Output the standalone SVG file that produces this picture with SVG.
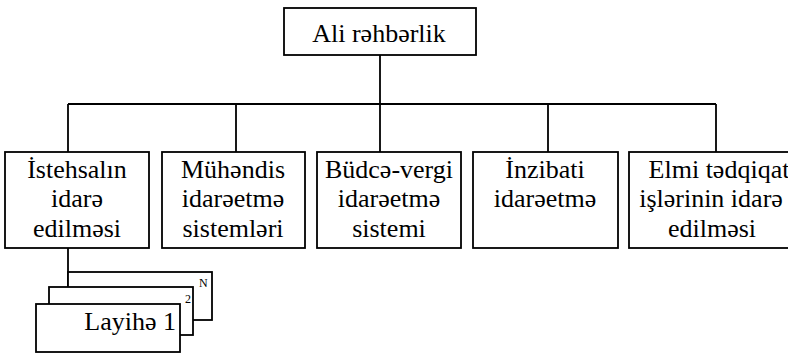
<svg xmlns="http://www.w3.org/2000/svg" width="788" height="353" viewBox="0 0 788 353">
  <style>
    .box { fill: #fff; stroke: #000; stroke-width: 1.8; }
    .line { fill: none; stroke: #000; stroke-width: 1.8; }
    .lbl { font-size: 26px; text-anchor: middle; }
    .idx { font-size: 12px; }
  </style>

  <g font-family="'Liberation Serif', 'Times New Roman', serif" fill="#000">
  <!-- connectors: trunk, bus and drops, plus the link to the project stack -->
  <g id="connectors">
    <path class="line" d="M380 55 V104 M68 104 H716 M68 104 V152 M236 104 V152 M380 104 V152 M548 104 V152 M716 104 V152"/>
    <path class="line" d="M68 248 V287"/>
  </g>

  <g id="top">
    <rect class="box" x="284" y="8" width="192" height="47"/>
    <text class="lbl" x="379" y="42">Ali rəhbərlik</text>
  </g>

  <g id="production">
    <rect class="box" x="5" y="152" width="144" height="96"/>
    <text class="lbl" x="77" y="178">İstehsalın</text>
    <text class="lbl" x="77" y="207">idarə</text>
    <text class="lbl" x="77" y="237">edilməsi</text>
  </g>

  <g id="engineering">
    <rect class="box" x="162" y="152" width="143" height="96"/>
    <text class="lbl" x="233" y="178">Mühəndis</text>
    <text class="lbl" x="233" y="207">idarəetmə</text>
    <text class="lbl" x="233" y="237">sistemləri</text>
  </g>

  <g id="budget">
    <rect class="box" x="317" y="152" width="144" height="96"/>
    <text class="lbl" x="389" y="178">Büdcə-vergi</text>
    <text class="lbl" x="389" y="207">idarəetmə</text>
    <text class="lbl" x="389" y="237">sistemi</text>
  </g>

  <g id="administrative">
    <rect class="box" x="473" y="152" width="145" height="96"/>
    <text class="lbl" x="545" y="178">İnzibati</text>
    <text class="lbl" x="545" y="207">idarəetmə</text>
  </g>

  <g id="research">
    <rect class="box" x="629" y="152" width="175" height="96"/>
    <text class="lbl" x="719" y="178">Elmi tədqiqat</text>
    <text class="lbl" x="711" y="207">işlərinin idarə</text>
    <text class="lbl" x="712" y="237">edilməsi</text>
  </g>

  <!-- stacked project cards, back to front -->
  <g id="project-n">
    <rect class="box" x="68" y="272" width="144" height="48"/>
    <text class="idx" x="199" y="287">N</text>
  </g>
  <g id="project-2">
    <rect class="box" x="49" y="287" width="144" height="48"/>
    <text class="idx" x="185" y="303">2</text>
  </g>
  <g id="project-1">
    <rect class="box" x="36" y="304" width="144" height="48"/>
    <text class="lbl" x="176" y="330" style="text-anchor:end">Layihə 1</text>
  </g>
  </g>
</svg>
